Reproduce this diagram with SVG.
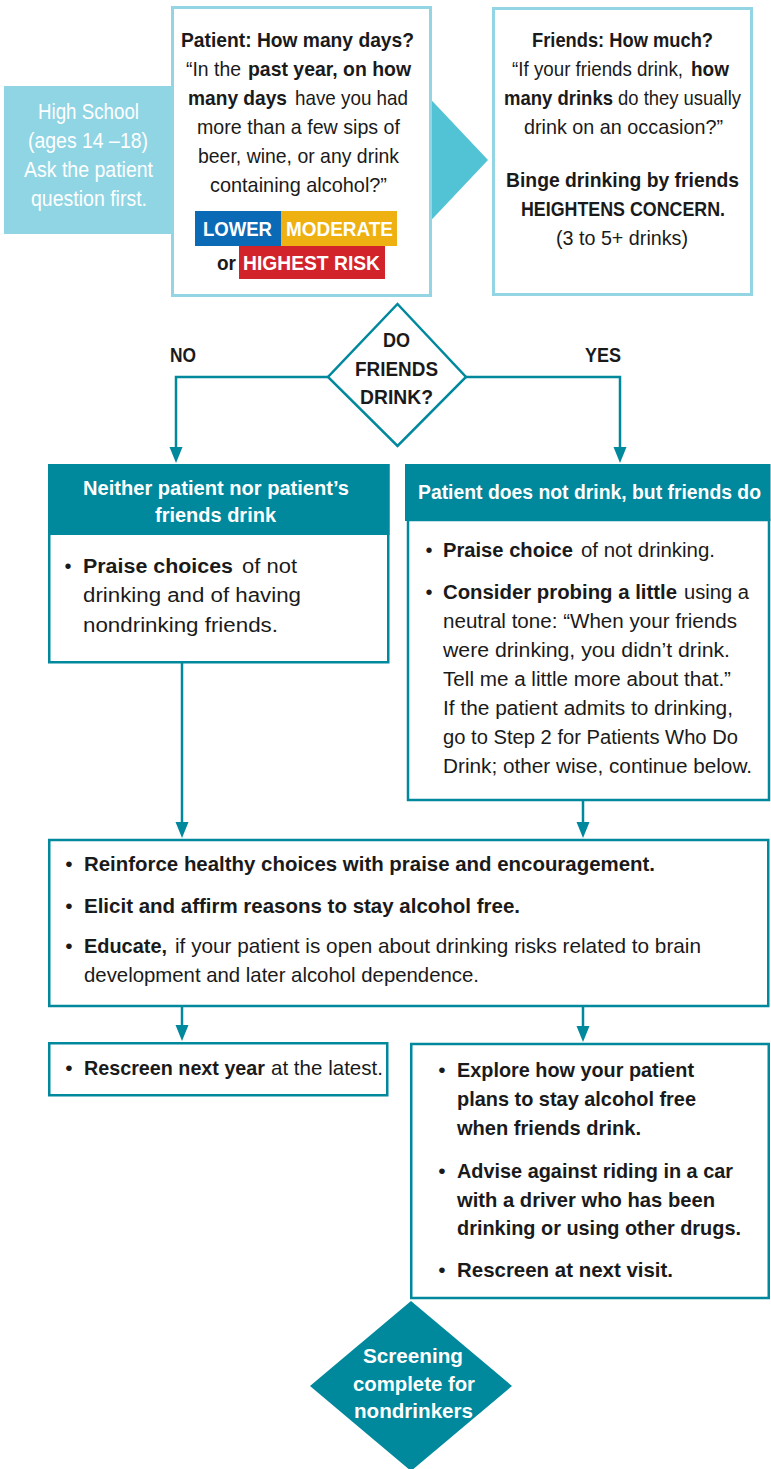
<svg xmlns="http://www.w3.org/2000/svg" width="771" height="1469" viewBox="0 0 771 1469">
<defs>
<style>
text{font-family:"Liberation Sans",Arial,sans-serif;fill:#1a1a1a;}
.b{font-weight:bold;}
.w{fill:#ffffff;}
.s20{font-size:20px;}
.s21{font-size:21px;}
.s22{font-size:22px;}
.topbox{fill:#ffffff;stroke:#93d5e3;stroke-width:3;}
.box{fill:#ffffff;stroke:#00889d;stroke-width:2.5;}
.hdr{fill:#00889d;}
.conn{fill:none;stroke:#00889d;stroke-width:2.5;}
.head{fill:#00889d;}
</style>
</defs>
<rect width="771" height="1469" fill="#ffffff"/>

<g id="connectors">
<path class="conn" d="M328,377 H176 V448"/>
<polygon class="head" points="169.5,447 182.5,447 176,463"/>
<path class="conn" d="M466,377 H620 V448"/>
<polygon class="head" points="613.5,447 626.5,447 620,463"/>
<path class="conn" d="M182,663 V823"/>
<polygon class="head" points="175.5,822 188.5,822 182,838"/>
<path class="conn" d="M583,801 V823"/>
<polygon class="head" points="576.5,822 589.5,822 583,838"/>
<path class="conn" d="M182,1007 V1026"/>
<polygon class="head" points="175.5,1025 188.5,1025 182,1041"/>
<path class="conn" d="M583,1007 V1027"/>
<polygon class="head" points="576.5,1026 589.5,1026 583,1042"/>
</g>

<g id="high-school">
<rect x="4" y="86" width="200" height="148" fill="#8fd5e4"/>
<polygon points="420,88 488,160 420,232" fill="#52c3d5"/>
<text class="w s22" x="38" y="119" textLength="101" lengthAdjust="spacingAndGlyphs">High School</text>
<text class="w s22" x="28" y="148" textLength="120" lengthAdjust="spacingAndGlyphs">(ages 14 –18)</text>
<text class="w s22" x="24" y="177" textLength="129" lengthAdjust="spacingAndGlyphs">Ask the patient</text>
<text class="w s22" x="31" y="206" textLength="116" lengthAdjust="spacingAndGlyphs">question first.</text>
</g>

<g id="patient-question">
<rect class="topbox" x="172.5" y="7.5" width="258" height="288"/>
<text class="s21 b" x="181" y="47" textLength="233" lengthAdjust="spacingAndGlyphs">Patient: How many days?</text>
<text class="s21" x="186" y="76" textLength="55" lengthAdjust="spacingAndGlyphs">“In the</text>
<text class="s21 b" x="248" y="76" textLength="163" lengthAdjust="spacingAndGlyphs">past year, on how</text>
<text class="s21 b" x="188" y="105" textLength="99" lengthAdjust="spacingAndGlyphs">many days</text>
<text class="s21" x="295" y="105" textLength="113" lengthAdjust="spacingAndGlyphs">have you had</text>
<text class="s21" x="197" y="134" textLength="203" lengthAdjust="spacingAndGlyphs">more than a few sips of</text>
<text class="s21" x="198" y="163" textLength="201" lengthAdjust="spacingAndGlyphs">beer, wine, or any drink</text>
<text class="s21" x="210" y="192" textLength="177" lengthAdjust="spacingAndGlyphs">containing alcohol?”</text>
<rect x="195" y="211" width="86" height="35" fill="#0a6ab5"/>
<rect x="281" y="211" width="116" height="35" fill="#eeb111"/>
<rect x="239" y="246" width="146" height="33" fill="#d2232a"/>
<text class="s21 b w" x="203" y="236" textLength="69" lengthAdjust="spacingAndGlyphs">LOWER</text>
<text class="s21 b w" x="286" y="236" textLength="107" lengthAdjust="spacingAndGlyphs">MODERATE</text>
<text class="s21 b" x="217" y="270" textLength="19" lengthAdjust="spacingAndGlyphs">or</text>
<text class="s21 b w" x="243" y="270" textLength="137" lengthAdjust="spacingAndGlyphs">HIGHEST RISK</text>
</g>

<g id="friends-question">
<rect class="topbox" x="493.5" y="8.5" width="258" height="286"/>
<text class="s21 b" x="532" y="47" textLength="181" lengthAdjust="spacingAndGlyphs">Friends: How much?</text>
<text x="512" y="76" font-size="19.5" textLength="171" lengthAdjust="spacingAndGlyphs">“If your friends drink,</text>
<text class="s21 b" x="691" y="76" textLength="38" lengthAdjust="spacingAndGlyphs">how</text>
<text class="s21 b" x="504" y="105" textLength="109" lengthAdjust="spacingAndGlyphs">many drinks</text>
<text class="s21" x="618" y="105" textLength="123" lengthAdjust="spacingAndGlyphs">do they usually</text>
<text class="s21" x="524" y="134" textLength="199" lengthAdjust="spacingAndGlyphs">drink on an occasion?”</text>
<text class="s21 b" x="506" y="187" textLength="233" lengthAdjust="spacingAndGlyphs">Binge drinking by friends</text>
<text class="s21 b" x="521" y="216" textLength="204" lengthAdjust="spacingAndGlyphs">HEIGHTENS CONCERN.</text>
<text class="s21" x="556" y="245" textLength="132" lengthAdjust="spacingAndGlyphs">(3 to 5+ drinks)</text>
</g>

<g id="decision-friends">
<polygon points="397.5,304 466,377 397.5,446 328,377" fill="#ffffff" stroke="#00889d" stroke-width="2.5"/>
<text class="s20 b" x="383" y="347" textLength="27" lengthAdjust="spacingAndGlyphs">DO</text>
<text class="s20 b" x="355" y="376" textLength="83" lengthAdjust="spacingAndGlyphs">FRIENDS</text>
<text class="s20 b" x="360" y="404" textLength="73" lengthAdjust="spacingAndGlyphs">DRINK?</text>
</g>

<g id="label-no"><text class="s20 b" x="170" y="362" textLength="26" lengthAdjust="spacingAndGlyphs">NO</text></g>
<g id="label-yes"><text class="s20 b" x="585" y="362" textLength="36" lengthAdjust="spacingAndGlyphs">YES</text></g>

<g id="neither-drink">
<rect class="box" x="49.25" y="465.25" width="339" height="197"/>
<rect class="hdr" x="48" y="464" width="341.5" height="71"/>
<text class="s20 b w" x="83" y="495" textLength="266" lengthAdjust="spacingAndGlyphs">Neither patient nor patient’s</text>
<text class="s20 b w" x="155" y="522" textLength="121" lengthAdjust="spacingAndGlyphs">friends drink</text>
<text class="s20" x="68" y="573" text-anchor="middle">•</text>
<text class="s20 b" x="83" y="573" textLength="150" lengthAdjust="spacingAndGlyphs">Praise choices</text>
<text class="s20" x="242" y="573" textLength="55" lengthAdjust="spacingAndGlyphs">of not</text>
<text class="s20" x="83" y="602" textLength="218" lengthAdjust="spacingAndGlyphs">drinking and of having</text>
<text class="s20" x="83" y="632" textLength="195" lengthAdjust="spacingAndGlyphs">nondrinking friends.</text>
</g>

<g id="friends-drink">
<rect class="box" x="408" y="520" width="361" height="280"/>
<rect class="hdr" x="405" y="464" width="365.5" height="57"/>
<text class="s20 b w" x="418" y="499" textLength="343" lengthAdjust="spacingAndGlyphs">Patient does not drink, but friends do</text>
<text class="s20" x="429" y="557" text-anchor="middle">•</text>
<text class="s20 b" x="443" y="557" textLength="130" lengthAdjust="spacingAndGlyphs">Praise choice</text>
<text class="s20" x="581" y="557" textLength="134" lengthAdjust="spacingAndGlyphs">of not drinking.</text>
<text class="s20" x="429" y="599" text-anchor="middle">•</text>
<text class="s20 b" x="443" y="599" textLength="234" lengthAdjust="spacingAndGlyphs">Consider probing a little</text>
<text class="s20" x="684" y="599" textLength="65" lengthAdjust="spacingAndGlyphs">using a</text>
<text class="s20" x="443" y="628" textLength="294" lengthAdjust="spacingAndGlyphs">neutral tone: “When your friends</text>
<text class="s20" x="443" y="657" textLength="287" lengthAdjust="spacingAndGlyphs">were drinking, you didn’t drink.</text>
<text class="s20" x="443" y="686" textLength="288" lengthAdjust="spacingAndGlyphs">Tell me a little more about that.”</text>
<text class="s20" x="443" y="715" textLength="290" lengthAdjust="spacingAndGlyphs">If the patient admits to drinking,</text>
<text class="s20" x="443" y="744" textLength="295" lengthAdjust="spacingAndGlyphs">go to Step 2 for Patients Who Do</text>
<text class="s20" x="443" y="773" textLength="309" lengthAdjust="spacingAndGlyphs">Drink; other wise, continue below.</text>
</g>

<g id="reinforce">
<rect class="box" x="49.25" y="840" width="719" height="166"/>
<text class="s21" x="69" y="871" text-anchor="middle">•</text>
<text class="s21 b" x="84" y="871" textLength="571" lengthAdjust="spacingAndGlyphs">Reinforce healthy choices with praise and encouragement.</text>
<text class="s21" x="69" y="913" text-anchor="middle">•</text>
<text class="s21 b" x="84" y="913" textLength="436" lengthAdjust="spacingAndGlyphs">Elicit and affirm reasons to stay alcohol free.</text>
<text class="s21" x="69" y="953" text-anchor="middle">•</text>
<text class="s21 b" x="84" y="953" textLength="83" lengthAdjust="spacingAndGlyphs">Educate,</text>
<text class="s21" x="175" y="953" textLength="526" lengthAdjust="spacingAndGlyphs">if your patient is open about drinking risks related to brain</text>
<text class="s21" x="84" y="982" textLength="395" lengthAdjust="spacingAndGlyphs">development and later alcohol dependence.</text>
</g>

<g id="rescreen-year">
<rect class="box" x="49.25" y="1043.25" width="338" height="52"/>
<text class="s21" x="69" y="1075" text-anchor="middle">•</text>
<text class="s21 b" x="84" y="1075" textLength="181" lengthAdjust="spacingAndGlyphs">Rescreen next year</text>
<text class="s21" x="271" y="1075" textLength="112" lengthAdjust="spacingAndGlyphs">at the latest.</text>
</g>

<g id="explore">
<rect class="box" x="411.25" y="1044" width="357.5" height="254"/>
<text class="s21" x="442" y="1077" text-anchor="middle">•</text>
<text class="s21 b" x="457" y="1077" textLength="237" lengthAdjust="spacingAndGlyphs">Explore how your patient</text>
<text class="s21 b" x="457" y="1106" textLength="239" lengthAdjust="spacingAndGlyphs">plans to stay alcohol free</text>
<text class="s21 b" x="457" y="1135" textLength="184" lengthAdjust="spacingAndGlyphs">when friends drink.</text>
<text class="s21" x="442" y="1178" text-anchor="middle">•</text>
<text class="s21 b" x="457" y="1178" textLength="276" lengthAdjust="spacingAndGlyphs">Advise against riding in a car</text>
<text class="s21 b" x="457" y="1207" textLength="258" lengthAdjust="spacingAndGlyphs">with a driver who has been</text>
<text class="s21 b" x="457" y="1235" textLength="284" lengthAdjust="spacingAndGlyphs">drinking or using other drugs.</text>
<text class="s21" x="442" y="1277" text-anchor="middle">•</text>
<text class="s21 b" x="457" y="1277" textLength="216" lengthAdjust="spacingAndGlyphs">Rescreen at next visit.</text>
</g>

<g id="screening-complete">
<polygon points="411,1301 512,1386 411,1471 310,1386" fill="#00889d"/>
<text class="s21 b w" x="363" y="1363" textLength="100" lengthAdjust="spacingAndGlyphs">Screening</text>
<text class="s21 b w" x="353" y="1391" textLength="122" lengthAdjust="spacingAndGlyphs">complete for</text>
<text class="s21 b w" x="354" y="1418" textLength="119" lengthAdjust="spacingAndGlyphs">nondrinkers</text>
</g>
</svg>
